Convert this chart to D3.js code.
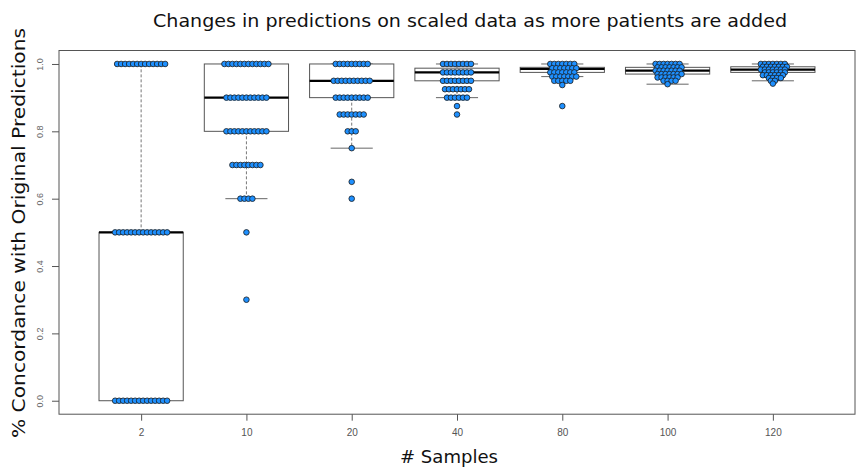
<!DOCTYPE html>
<html>
<head>
<meta charset="utf-8">
<script src="https://cdn.jsdelivr.net/npm/d3@7"></script>
<style>
  body { margin: 0; background: #fff; }
  svg { display: block; }
</style>
</head>
<body>
<svg id="chart" width="864" height="470"></svg>
<script>
// sample sizes on the x axis
var samples = ["2", "10", "20", "40", "80", "100", "120"];

// boxplot stats
var whiskerLow  = [0,   0.6, 0.75, 0.9,    0.9625, 0.94, 0.95];
var boxQ1       = [0,   0.8, 0.9,  0.95,   0.975,  0.97, 0.975];
var boxMedian   = [0.5, 0.9, 0.95, 0.975,  0.985,  0.98, 0.9833];
var boxQ3       = [0.5, 1.0, 1.0,  0.9875, 0.99,   0.99, 0.9917];
var whiskerHigh = [1,   1,   1,    1,      1,      1,    1];

// points: concordance value and how many runs landed on it
var dots2Val   = [1, 0.5, 0];
var dots2Cnt   = [13, 14, 14];
var dots10Val  = [1, 0.9, 0.8, 0.7, 0.6, 0.5, 0.3];
var dots10Cnt  = [12, 11, 11, 8, 4, 1, 1];
var dots20Val  = [1, 0.95, 0.9, 0.85, 0.8, 0.75, 0.65, 0.6];
var dots20Cnt  = [9, 10, 9, 7, 3, 1, 1, 1];
var dots40Val  = [1, 0.975, 0.95, 0.925, 0.9, 0.875, 0.85];
var dots40Cnt  = [8, 8, 8, 7, 6, 1, 1];
var dots80Val  = [1, 0.9875, 0.975, 0.9625, 0.95, 0.9375, 0.875];
var dots80Cnt  = [7, 7, 7, 7, 5, 1, 1];
var dots100Val = [1, 0.99, 0.98, 0.97, 0.96, 0.95, 0.94];
var dots100Cnt = [7, 7, 7, 7, 6, 4, 1];
var dots120Val = [1, 0.9917, 0.9833, 0.975, 0.9667, 0.9583, 0.95, 0.9417];
var dots120Cnt = [7, 7, 7, 6, 6, 4, 2, 1];

var yTicks = [0, 0.2, 0.4, 0.6, 0.8, 1.0];

var dotVals = [dots2Val, dots10Val, dots20Val, dots40Val, dots80Val, dots100Val, dots120Val];
var dotCnts = [dots2Cnt, dots10Cnt, dots20Cnt, dots40Cnt, dots80Cnt, dots100Cnt, dots120Cnt];

var svg = d3.select("#chart");
// note: "top" is window.top in a browser, so don't use it as a name
var plotL = 59, plotR = 855, plotT = 50.5, plotB = 414.2;

var x = d3.scalePoint().domain(samples).range([plotL, plotR]).padding(0.78);
var y = d3.scaleLinear().domain([-0.04, 1.04]).range([plotB, plotT]);
var step = x.step();
var halfBox = step * 0.4, halfCap = step * 0.2;

var boxes = samples.map(function(s, i) {
  return {s: s, lo: whiskerLow[i], q1: boxQ1[i], med: boxMedian[i], q3: boxQ3[i], hi: whiskerHigh[i]};
});

// whiskers (dashed) and caps
var g = svg.append("g");
g.selectAll(".whisk").data(boxes).enter().append("path")
  .attr("d", function(d) {
    var cx = x(d.s);
    return "M" + cx + "," + y(d.q3) + "V" + y(d.hi) + "M" + cx + "," + y(d.q1) + "V" + y(d.lo);
  })
  .attr("stroke", "#777").attr("stroke-width", 1).attr("stroke-dasharray", "3,2").attr("fill", "none");

g.selectAll(".cap").data(boxes).enter().append("path")
  .attr("d", function(d) {
    var cx = x(d.s);
    return "M" + (cx - halfCap) + "," + y(d.hi) + "H" + (cx + halfCap) +
           "M" + (cx - halfCap) + "," + y(d.lo) + "H" + (cx + halfCap);
  })
  .attr("stroke", "#666").attr("stroke-width", 1).attr("fill", "none");

g.selectAll(".box").data(boxes).enter().append("rect")
  .attr("x", function(d) { return x(d.s) - halfBox; })
  .attr("y", function(d) { return y(d.q3); })
  .attr("width", halfBox * 2)
  .attr("height", function(d) { return y(d.q1) - y(d.q3); })
  .attr("fill", "#fff").attr("stroke", "#555").attr("stroke-width", 1);

g.selectAll(".med").data(boxes).enter().append("line")
  .attr("x1", function(d) { return x(d.s) - halfBox; })
  .attr("x2", function(d) { return x(d.s) + halfBox; })
  .attr("y1", function(d) { return y(d.med); })
  .attr("y2", function(d) { return y(d.med); })
  .attr("stroke", "#000").attr("stroke-width", 2.2);

// spread runs with the same value into a row around the group centre,
// staggering rows that sit too close together vertically
var spacing = 4;
var points = [];
samples.forEach(function(s, i) {
  dotVals[i].forEach(function(v, j) {
    var n = dotCnts[i][j];
    var tight = j > 0 && Math.abs(y(v) - y(dotVals[i][j - 1])) < 5;
    var shift = (tight && j % 2 === 1) ? spacing / 2 : 0;
    for (var k = 0; k < n; k++) {
      points.push({s: s, v: v, off: (k - (n - 1) / 2) * spacing + (n > 1 ? shift : 0)});
    }
  });
});

svg.append("g").selectAll("circle").data(points).enter().append("circle")
  .attr("cx", function(d) { return x(d.s) + d.off; })
  .attr("cy", function(d) { return y(d.v); })
  .attr("r", 2.8)
  .attr("fill", "#1e90ff").attr("stroke", "#1a1a1a").attr("stroke-width", 0.8);

// frame
svg.append("rect")
  .attr("x", plotL).attr("y", plotT)
  .attr("width", plotR - plotL).attr("height", plotB - plotT)
  .attr("fill", "none").attr("stroke", "#555").attr("stroke-width", 1);

// axes
var yAxis = svg.append("g").attr("transform", "translate(" + plotL + ",0)")
  .call(d3.axisLeft(y).tickValues(yTicks).tickSize(7).tickPadding(10).tickFormat(d3.format(".1f")));
yAxis.select(".domain").remove();
yAxis.selectAll(".tick line").attr("stroke", "#555");
yAxis.selectAll(".tick text")
  .attr("x", -16).attr("dy", 0)
  .attr("transform", "rotate(-90,-16,0)")
  .attr("text-anchor", "middle")
  .attr("fill", "#666")
  .style("font-family", "Liberation Sans, Arial, sans-serif")
  .style("font-size", "9px");

var xAxis = svg.append("g").attr("transform", "translate(0," + plotB + ")")
  .call(d3.axisBottom(x).tickSize(6.5).tickPadding(8));
xAxis.select(".domain").remove();
xAxis.selectAll(".tick line").attr("stroke", "#555");
xAxis.selectAll(".tick text")
  .attr("fill", "#555")
  .style("font-family", "Liberation Sans, Arial, sans-serif")
  .style("font-size", "10px");

// titles
var labFont = "DejaVu Sans, Verdana, sans-serif";
svg.append("text")
  .attr("x", 470).attr("y", 27)
  .attr("text-anchor", "middle")
  .attr("textLength", 634).attr("lengthAdjust", "spacingAndGlyphs")
  .style("font-family", labFont).style("font-size", "17px").attr("fill", "#111")
  .text("Changes in predictions on scaled data as more patients are added");

svg.append("text")
  .attr("x", 449).attr("y", 463)
  .attr("text-anchor", "middle")
  .attr("textLength", 98).attr("lengthAdjust", "spacingAndGlyphs")
  .style("font-family", labFont).style("font-size", "17px").attr("fill", "#111")
  .text("# Samples");

svg.append("text")
  .attr("transform", "translate(25,233) rotate(-90)")
  .attr("text-anchor", "middle")
  .attr("textLength", 410).attr("lengthAdjust", "spacingAndGlyphs")
  .style("font-family", labFont).style("font-size", "18px").attr("fill", "#111")
  .text("% Concordance with Original Predictions");
</script>
</body>
</html>
